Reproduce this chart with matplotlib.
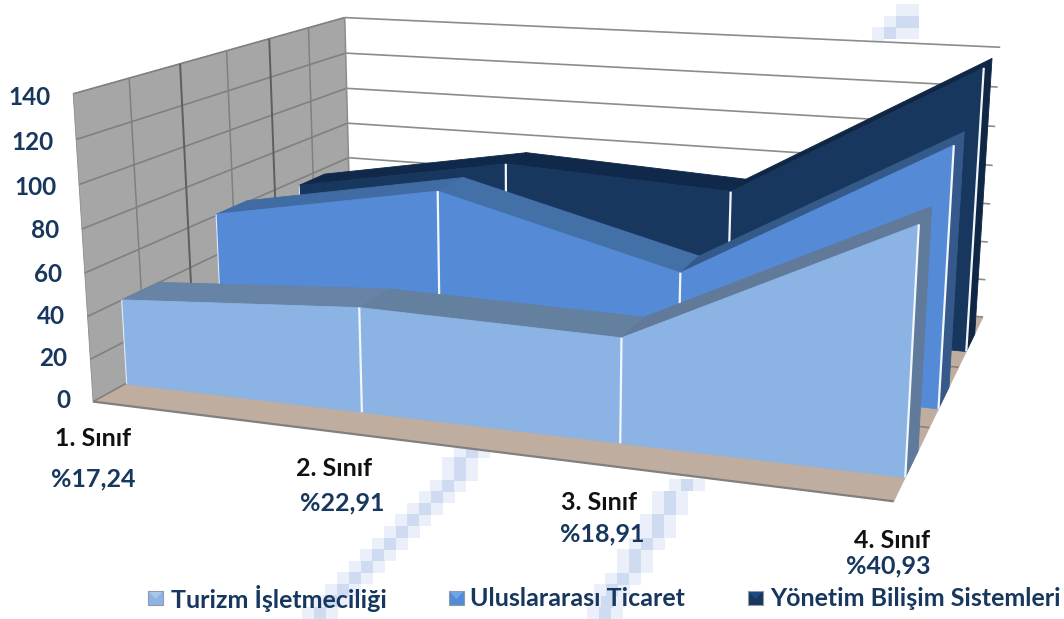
import numpy as np
import matplotlib
matplotlib.use("Agg")
import matplotlib.pyplot as plt
from matplotlib.patches import Polygon, Rectangle

plt.rcParams['font.family'] = ['Lato', 'DejaVu Sans']

categories = ["1. Sınıf", "2. Sınıf", "3. Sınıf", "4. Sınıf"]
shares = ["%17,24", "%22,91", "%18,91", "%40,93"]
series_names = ["Turizm İşletmeciliği", "Uluslararası Ticaret", "Yönetim Bilişim Sistemleri"]
turizm = [40.5, 48.2, 46.5, 104.4]
ticaret = [61, 81.5, 52, 119]
yonetim = [57, 77, 71, 139]
yticks = [0, 20, 40, 60, 80, 100, 120, 140]

# colours: front face, top faces (one per segment), right end face
front_cols = ["#8BB3E3", "#558BD6", "#17375E"]
top_cols = [["#6783A6", "#64809F", "#627A9A"],
            ["#406CA3", "#4470A8", "#345A8A"],
            ["#10284A", "#10284A", "#0F2644"]]
side_cols = ["#5F7A9B", "#35598A", "#0F2644"]

# pale pixel stripes in the background of the picture
stripe_a = [(472,452),(460,463),(460,475),(448,486),(437,497),(425,509),(413,520),(402,532),
            (390,544),(378,555),(367,567),(355,578),(343,590),(331,601),(320,613)]
stripe_b = [(687,485),(670,497),(670,509),(658,520),(658,532),(647,544),(635,555),(635,567),
            (623,579),(612,590),(607,602),(605,613)]
stripe_c_dark = [(902,22),(913,22),(890,33)]
stripe_c_light = [(902,10),(913,10),(890,22),(878,33),(902,33),(913,33),(878,43)]

# perspective of the box, fitted from its corners: (x, depth, height) -> pixel
world = [(0,0,0),(1,0,0),(0,1,0),(1,1,0),(0,0,1),(0,1,1),(1,1,1)]
pix = [(93,399),(894,503),(351,262),(983,315),(73,95),(345,16),(1000,48)]
rows = []
for (X,Y,Z),(u,v) in zip(world,pix):
    rows.append([X,Y,Z,1,0,0,0,0,-u*X,-u*Y,-u*Z,-u])
    rows.append([0,0,0,0,X,Y,Z,1,-v*X,-v*Y,-v*Z,-v])
M = np.linalg.svd(np.array(rows,float))[2][-1].reshape(3,4)

def project(x, d, v):
    p = M @ np.array([x, d, v/140, 1.0])
    return p[:2]/p[2]

fig = plt.figure(figsize=(10.64,6.19), dpi=100)
ax = fig.add_axes([0,0,1,1])
ax.set_xlim(0,1064)
ax.set_ylim(619,0)
ax.axis('off')

def face(pts, color, z, edge=None):
    ax.add_patch(Polygon([project(*p) for p in pts], closed=True, facecolor=color,
                         edgecolor=edge or color, lw=0.6, zorder=z))

def line3(a, b, color, lw, z=3):
    pa, pb = project(*a), project(*b)
    ax.plot([pa[0],pb[0]], [pa[1],pb[1]], color=color, lw=lw, zorder=z, solid_capstyle='butt')

def block(cx, cy, color, z):
    ax.add_patch(Rectangle((cx-6,cy-6), 12, 12, color=color, lw=0, zorder=z))

# background stripes
for cx, cy in stripe_a + stripe_b:
    block(cx-12, cy, "#EAEFF9", 0)
    block(cx+12, cy, "#EAEFF9", 0)
for cx, cy in stripe_c_light:
    block(cx, cy, "#EAEFF9", 0)
for cx, cy in stripe_a + stripe_b + stripe_c_dark:
    block(cx, cy, "#CEDBF1", 0.5)

# walls and floor
face([(0,0,0),(0,1,0),(0,1,140),(0,0,140)], "#A6A6A6", 1, "#8C8C8C")
face([(0,1,0),(1,1,0),(1,1,140),(0,1,140)], "#FFFFFF", 1)
face([(0,0,0),(1,0,0),(1,1,0),(0,1,0)], "#BFAEA0", 2)
for v in yticks:
    line3((0,0,v),(0,1,v), "#808080", 1.2)
    line3((0,1,v),(1,1,v), "#8C8C8C", 1.2)
for k in range(1,6):
    dark = k % 2 == 0
    line3((0,k/6,0),(0,k/6,140), "#5E5E5E" if dark else "#808080", 1.4 if dark else 1.1)
for d in [1/3, 2/3]:
    line3((0,d,0),(1,d,0), "#8C8177", 1.2)
line3((0,1,0),(0,1,140), "#8C8C8C", 1.2)
line3((0,0,0),(1,0,0), "#808080", 1.6, 4)

# the three area series, back to front
xs = [0.002 + i*(1-0.002)/3 for i in range(4)]
depths = [(0.10, 0.22), (0.43, 0.55), (0.765, 0.88)]
all_series = [turizm, ticaret, yonetim]
for s in [2, 1, 0]:
    vals = all_series[s]
    d0, d1 = depths[s]
    z = 10 + (2-s)*5
    for i in range(3):
        face([(xs[i],d0,vals[i]),(xs[i+1],d0,vals[i+1]),(xs[i+1],d1,vals[i+1]),(xs[i],d1,vals[i])],
             top_cols[s][i], z)
    face([(xs[3],d0,0),(xs[3],d1,0),(xs[3],d1,vals[3]),(xs[3],d0,vals[3])], side_cols[s], z)
    front = [(x,d0,0) for x in xs[::-1]] + [(x,d0,v) for x, v in zip(xs, vals)]
    face(front, front_cols[s], z+1)
    for i in range(1,4):
        line3((xs[i],d0,0),(xs[i],d0,vals[i]), "#F2F5FA", 1.6, z+2)
    line3((xs[0],d0,0),(xs[0],d0,vals[0]), "#E4EAF3", 0.8, z+2)

# text
navy = "#17375E"
for v in yticks:
    p = project(0,0,v)
    ax.text(p[0]-23, p[1]-1+5*v/140, str(v), ha='right', va='center', fontsize=17.5, fontweight='bold',
            color=navy, zorder=30)
cat_pos = [(93,438),(334,469),(599,503),(892,541)]
share_pos = [(93,479),(342,503),(602,534),(888,566)]
for t, (x,y) in zip(categories, cat_pos):
    ax.text(x, y, t, ha='center', va='center', fontsize=18, fontweight='bold', color="#111111", zorder=30)
for t, (x,y) in zip(shares, share_pos):
    ax.text(x, y, t, ha='center', va='center', fontsize=18, fontweight='bold', color=navy, zorder=30)

# legend
leg_mark = [148, 449, 748]
leg_text = [171, 470, 770]
leg_light = ["#A9C6EA", "#6FA6E8", "#1F4A80"]
for i in range(3):
    mx, my = leg_mark[i], 591
    ax.add_patch(Rectangle((mx,my), 15, 14, facecolor=front_cols[i], edgecolor="#8E9BAD", lw=0.8, zorder=30))
    ax.add_patch(Polygon([(mx+1,my+1),(mx+14,my+1),(mx+7.5,my+8)], closed=True, facecolor=leg_light[i], lw=0, zorder=31))
    ax.text(leg_text[i], 598, series_names[i], ha='left', va='center', fontsize=18, fontweight='bold',
            color=navy, zorder=30)

fig.savefig("out.png", dpi=100)
